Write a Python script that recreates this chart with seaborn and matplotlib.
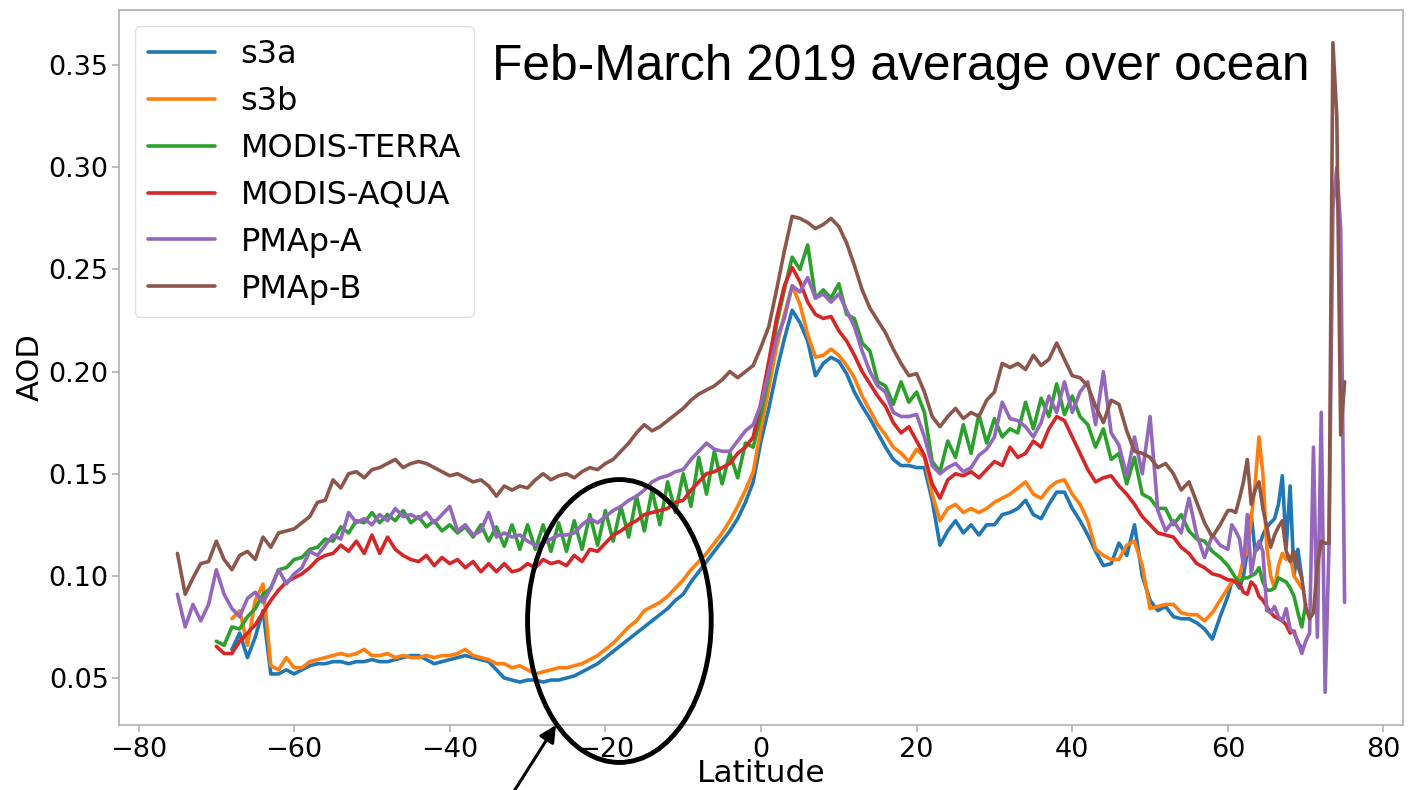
import numpy as np
import pandas as pd
import matplotlib
matplotlib.use("Agg")
import matplotlib.pyplot as plt
import seaborn as sns
from matplotlib.patches import Ellipse

nan = np.nan

# Latitude grids: 1-degree from -75 to 60, then 0.5-degree from 60.5 to 75
lat_main = np.arange(-75, 61, 1.0)
lat_tail = np.arange(60.5, 75.01, 0.5)

names = ["s3a", "s3b", "MODIS-TERRA", "MODIS-AQUA", "PMAp-A", "PMAp-B"]

s3a_main = [
    nan, nan, nan, nan, nan, nan, nan, 0.064, 0.072, 0.060,
    0.070, 0.083, 0.052, 0.052, 0.054, 0.052, 0.054, 0.056, 0.057, 0.057,
    0.058, 0.058, 0.057, 0.058, 0.058, 0.059, 0.058, 0.058, 0.059, 0.060,
    0.061, 0.061, 0.059, 0.057, 0.058, 0.059, 0.060, 0.061, 0.060, 0.059,
    0.058, 0.054, 0.050, 0.049, 0.048, 0.049, 0.049, 0.048, 0.049, 0.049,
    0.050, 0.051, 0.053, 0.055, 0.057, 0.060, 0.063, 0.066, 0.069, 0.072,
    0.075, 0.078, 0.081, 0.084, 0.088, 0.091, 0.097, 0.102, 0.107, 0.112,
    0.117, 0.122, 0.128, 0.136, 0.146, 0.166, 0.182, 0.200, 0.216, 0.230,
    0.224, 0.215, 0.198, 0.204, 0.207, 0.205, 0.199, 0.190, 0.183, 0.177,
    0.170, 0.163, 0.157, 0.154, 0.154, 0.153, 0.153, 0.137, 0.115, 0.122,
    0.127, 0.121, 0.125, 0.120, 0.125, 0.125, 0.130, 0.131, 0.133, 0.137,
    0.130, 0.128, 0.135, 0.141, 0.141, 0.133, 0.127, 0.120, 0.112, 0.105,
    0.106, 0.116, 0.110, 0.125, 0.100, 0.088, 0.083, 0.085, 0.080, 0.079,
    0.079, 0.077, 0.074, 0.069, 0.080, 0.090,
]
s3a_tail = [
    0.097, 0.097, 0.094, 0.100, 0.112, 0.130, 0.112, 0.114, 0.120, 0.124,
    0.126, 0.128, 0.135, 0.149, 0.114, 0.144, 0.100, 0.113, 0.099,
    nan, nan, nan, nan, nan, nan, nan, nan, nan, nan, nan,
]

s3b_main = [
    nan, nan, nan, nan, nan, nan, nan, 0.079, 0.083, 0.066,
    0.088, 0.096, 0.056, 0.054, 0.060, 0.055, 0.055, 0.058, 0.059, 0.060,
    0.061, 0.062, 0.061, 0.062, 0.064, 0.061, 0.061, 0.062, 0.060, 0.061,
    0.060, 0.060, 0.061, 0.060, 0.061, 0.061, 0.062, 0.064, 0.061, 0.060,
    0.059, 0.057, 0.057, 0.055, 0.056, 0.054, 0.052, 0.053, 0.054, 0.055,
    0.055, 0.056, 0.057, 0.059, 0.061, 0.064, 0.067, 0.071, 0.075, 0.078,
    0.083, 0.085, 0.087, 0.090, 0.094, 0.098, 0.103, 0.107, 0.111, 0.116,
    0.121, 0.127, 0.134, 0.142, 0.151, 0.172, 0.192, 0.212, 0.228, 0.242,
    0.233, 0.218, 0.207, 0.208, 0.211, 0.208, 0.203, 0.197, 0.188, 0.181,
    0.174, 0.169, 0.163, 0.160, 0.156, 0.162, 0.158, 0.140, 0.127, 0.133,
    0.135, 0.131, 0.133, 0.131, 0.133, 0.136, 0.138, 0.140, 0.143, 0.146,
    0.140, 0.138, 0.143, 0.146, 0.147, 0.140, 0.135, 0.127, 0.113, 0.110,
    0.108, 0.108, 0.115, 0.117, 0.105, 0.084, 0.085, 0.086, 0.086, 0.082,
    0.081, 0.081, 0.078, 0.082, 0.088, 0.094,
]
s3b_tail = [
    0.097, 0.097, 0.100, 0.108, 0.112, 0.128, 0.145, 0.168, 0.150, 0.114,
    0.100, 0.094, 0.105, 0.111, 0.108, 0.110, 0.100, 0.097, 0.094,
    nan, nan, nan, nan, nan, nan, nan, nan, nan, nan, nan,
]

terra_main = [
    nan, nan, nan, nan, nan, 0.068, 0.066, 0.075, 0.074, 0.080,
    0.084, 0.091, 0.094, 0.103, 0.104, 0.108, 0.109, 0.113, 0.114, 0.118,
    0.117, 0.124, 0.121, 0.127, 0.126, 0.131, 0.126, 0.130, 0.127, 0.132,
    0.126, 0.129, 0.124, 0.127, 0.122, 0.125, 0.121, 0.124, 0.119, 0.125,
    0.117, 0.124, 0.1145, 0.125, 0.113, 0.125, 0.113, 0.125, 0.112, 0.126,
    0.112, 0.127, 0.113, 0.130, 0.115, 0.132, 0.117, 0.134, 0.119, 0.139,
    0.122, 0.142, 0.125, 0.146, 0.131, 0.150, 0.134, 0.158, 0.140, 0.161,
    0.145, 0.160, 0.148, 0.165, 0.163, 0.179, 0.198, 0.223, 0.240, 0.256,
    0.250, 0.262, 0.236, 0.240, 0.236, 0.243, 0.228, 0.226, 0.214, 0.210,
    0.195, 0.193, 0.184, 0.195, 0.185, 0.190, 0.180, 0.156, 0.151, 0.166,
    0.158, 0.174, 0.160, 0.179, 0.165, 0.177, 0.168, 0.172, 0.170, 0.185,
    0.172, 0.187, 0.178, 0.194, 0.179, 0.188, 0.178, 0.174, 0.163, 0.172,
    0.157, 0.160, 0.145, 0.158, 0.140, 0.138, 0.133, 0.133, 0.125, 0.130,
    0.122, 0.118, 0.117, 0.112, 0.109, 0.105,
]
terra_tail = [
    0.102, 0.099, 0.097, 0.099, 0.099, 0.100, 0.101, 0.104, 0.097, 0.093,
    0.093, 0.094, 0.099, 0.098, 0.097, 0.094, 0.090, 0.082, 0.075, 0.086,
    nan, nan, nan, nan, nan, nan, nan, nan, nan, nan,
]

aqua_main = [
    nan, nan, nan, nan, nan, 0.0655, 0.062, 0.062, 0.068, 0.072,
    0.076, 0.082, 0.088, 0.093, 0.097, 0.099, 0.101, 0.104, 0.108, 0.110,
    0.111, 0.115, 0.112, 0.117, 0.111, 0.120, 0.111, 0.119, 0.113, 0.110,
    0.108, 0.107, 0.110, 0.105, 0.109, 0.106, 0.108, 0.104, 0.107, 0.102,
    0.106, 0.102, 0.106, 0.102, 0.103, 0.106, 0.104, 0.108, 0.106, 0.107,
    0.105, 0.110, 0.107, 0.113, 0.112, 0.116, 0.120, 0.122, 0.125, 0.127,
    0.130, 0.131, 0.132, 0.133, 0.136, 0.137, 0.142, 0.146, 0.150, 0.151,
    0.153, 0.155, 0.160, 0.163, 0.168, 0.185, 0.205, 0.226, 0.242, 0.251,
    0.244, 0.234, 0.228, 0.226, 0.227, 0.220, 0.215, 0.208, 0.200, 0.194,
    0.188, 0.183, 0.175, 0.170, 0.173, 0.166, 0.159, 0.145, 0.138, 0.147,
    0.150, 0.149, 0.151, 0.148, 0.152, 0.156, 0.154, 0.163, 0.158, 0.160,
    0.166, 0.163, 0.172, 0.178, 0.176, 0.168, 0.160, 0.152, 0.146, 0.148,
    0.149, 0.144, 0.140, 0.135, 0.129, 0.125, 0.121, 0.120, 0.119, 0.114,
    0.111, 0.106, 0.104, 0.101, 0.100, 0.098,
]
aqua_tail = [
    0.098, 0.097, 0.096, 0.092, 0.091, 0.097, 0.095, 0.090, 0.088, 0.085,
    0.082, 0.080, 0.079, 0.078, 0.076, 0.072, 0.073, 0.067, 0.065,
    nan, nan, nan, nan, nan, nan, nan, nan, nan, nan, nan,
]

pmapa_main = [
    0.091, 0.075, 0.086, 0.078, 0.086, 0.103, 0.091, 0.084, 0.080, 0.089,
    0.092, 0.087, 0.094, 0.103, 0.096, 0.101, 0.104, 0.112, 0.110, 0.115,
    0.120, 0.118, 0.131, 0.126, 0.128, 0.125, 0.130, 0.127, 0.133, 0.129,
    0.130, 0.128, 0.131, 0.126, 0.130, 0.134, 0.122, 0.125, 0.120, 0.122,
    0.131, 0.119, 0.121, 0.119, 0.120, 0.117, 0.115, 0.116, 0.118, 0.120,
    0.120, 0.121, 0.125, 0.128, 0.126, 0.129, 0.132, 0.134, 0.137, 0.139,
    0.142, 0.146, 0.148, 0.149, 0.151, 0.152, 0.157, 0.161, 0.165, 0.162,
    0.161, 0.161, 0.166, 0.171, 0.174, 0.184, 0.200, 0.216, 0.226, 0.242,
    0.239, 0.246, 0.236, 0.238, 0.234, 0.238, 0.230, 0.222, 0.210, 0.200,
    0.193, 0.190, 0.180, 0.178, 0.178, 0.179, 0.168, 0.154, 0.150, 0.153,
    0.155, 0.151, 0.153, 0.159, 0.162, 0.168, 0.185, 0.177, 0.176, 0.173,
    0.168, 0.175, 0.188, 0.180, 0.195, 0.180, 0.190, 0.195, 0.174, 0.200,
    0.170, 0.164, 0.149, 0.168, 0.150, 0.178, 0.132, 0.122, 0.127, 0.121,
    0.138, 0.120, 0.109, 0.120, 0.115, 0.113,
]
pmapa_tail = [
    0.125, 0.122, 0.118, 0.105, 0.130, 0.101, 0.112, 0.117, 0.112, 0.083,
    0.082, 0.085, 0.080, 0.078, 0.084, 0.074, 0.072, 0.068, 0.062, 0.068,
    0.072, 0.163, 0.070, 0.180, 0.043, 0.115, 0.280, 0.300, 0.270, 0.087,
]

pmapb_main = [
    0.111, 0.091, 0.099, 0.106, 0.107, 0.117, 0.108, 0.103, 0.110, 0.112,
    0.108, 0.119, 0.114, 0.121, 0.122, 0.123, 0.126, 0.129, 0.136, 0.137,
    0.147, 0.143, 0.150, 0.151, 0.148, 0.152, 0.153, 0.155, 0.157, 0.153,
    0.155, 0.156, 0.155, 0.153, 0.151, 0.149, 0.150, 0.148, 0.146, 0.147,
    0.144, 0.139, 0.144, 0.142, 0.144, 0.143, 0.147, 0.150, 0.147, 0.149,
    0.150, 0.148, 0.151, 0.153, 0.152, 0.155, 0.157, 0.161, 0.165, 0.170,
    0.174, 0.171, 0.173, 0.176, 0.179, 0.182, 0.186, 0.189, 0.191, 0.193,
    0.196, 0.200, 0.197, 0.200, 0.203, 0.212, 0.222, 0.240, 0.259, 0.276,
    0.275, 0.273, 0.270, 0.272, 0.275, 0.271, 0.263, 0.252, 0.240, 0.231,
    0.225, 0.219, 0.211, 0.204, 0.198, 0.199, 0.190, 0.178, 0.173, 0.178,
    0.182, 0.177, 0.180, 0.178, 0.186, 0.190, 0.204, 0.202, 0.204, 0.201,
    0.208, 0.203, 0.206, 0.214, 0.206, 0.198, 0.197, 0.193, 0.183, 0.175,
    0.186, 0.184, 0.171, 0.161, 0.160, 0.158, 0.153, 0.155, 0.150, 0.142,
    0.146, 0.136, 0.126, 0.119, 0.125, 0.132,
]
pmapb_tail = [
    0.132, 0.131, 0.138, 0.146, 0.157, 0.135, 0.142, 0.146, 0.133, 0.124,
    0.114, 0.120, 0.124, 0.127, 0.112, 0.107, 0.112, 0.105, 0.099, 0.085,
    0.079, 0.082, 0.105, 0.117, 0.116, 0.116, 0.361, 0.325, 0.169, 0.195,
]

series_main = [s3a_main, s3b_main, terra_main, aqua_main, pmapa_main, pmapb_main]
series_tail = [s3a_tail, s3b_tail, terra_tail, aqua_tail, pmapa_tail, pmapb_tail]

x_ticks = [-80, -60, -40, -20, 0, 20, 40, 60, 80]
y_ticks = [0.05, 0.10, 0.15, 0.20, 0.25, 0.30, 0.35]

frames = []
for name, m, t in zip(names, series_main, series_tail):
    assert len(m) == len(lat_main), (name, len(m))
    assert len(t) == len(lat_tail), (name, len(t))
    frames.append(pd.DataFrame({
        "Latitude": np.concatenate([lat_main, lat_tail]),
        "AOD": np.concatenate([np.array(m, float), np.array(t, float)]),
        "Product": name,
    }))
df = pd.concat(frames, ignore_index=True).dropna()

sns.set_style("white")
plt.rcParams["font.family"] = ["DejaVu Sans"]
plt.rcParams["text.color"] = "black"
plt.rcParams["axes.labelcolor"] = "black"
plt.rcParams["xtick.color"] = "black"
plt.rcParams["ytick.color"] = "black"

fig = plt.figure(figsize=(14.09, 7.90), dpi=100)
ax = fig.add_axes([0.0845, 0.0823, 0.9957 - 0.0845, 0.9873 - 0.0823])

palette = sns.color_palette("tab10", 6)
sns.lineplot(data=df, x="Latitude", y="AOD", hue="Product", hue_order=names,
             palette=palette, linewidth=2.6, errorbar=None, legend=False,
             sort=True, ax=ax)

ax.set_xlim(-82.5, 82.5)
ax.set_ylim(0.027, 0.377)
ax.set_xticks(x_ticks)
ax.set_yticks(y_ticks)
ax.set_yticklabels([f"{v:.2f}" for v in y_ticks])
ax.tick_params(axis="both", labelsize=19.5, color="#b0b0b0", length=5, width=1.2,
               bottom=True, left=True, labelcolor="black")
ax.tick_params(axis="y", pad=2.5)
for s in ax.spines.values():
    s.set_color("#b0b0b0")
    s.set_linewidth(1.2)

ax.set_xlabel("Latitude", fontsize=22.5, labelpad=-3, color="black")
ax.set_ylabel("AOD", fontsize=22, labelpad=3, color="black")

leg = ax.legend(ax.lines[:6], names, loc="upper left", fontsize=23,
                labelspacing=0.5, handlelength=2.1, borderaxespad=0.5,
                frameon=True, framealpha=0.8, edgecolor="0.85", fancybox=True)
for t in leg.get_texts():
    t.set_color("black")

fig.text(492 / 1409, 1 - 80 / 790, "Feb-March 2019 average over ocean",
         fontsize=35.7, family=["Liberation Sans", "DejaVu Sans"],
         ha="left", va="baseline", color="black")

ell = Ellipse((-18.2, 0.0779), width=23.6, height=0.1385, fill=False,
              edgecolor="black", linewidth=3.5, clip_on=False, zorder=5)
ax.add_patch(ell)

ax.annotate("", xy=(556, 65), xycoords="figure pixels",
            xytext=(511, -6), textcoords="figure pixels",
            arrowprops=dict(arrowstyle="-|>", color="black", lw=2.2,
                            mutation_scale=25, shrinkA=0, shrinkB=0),
            annotation_clip=False)

fig.savefig("out.png", dpi=100)
